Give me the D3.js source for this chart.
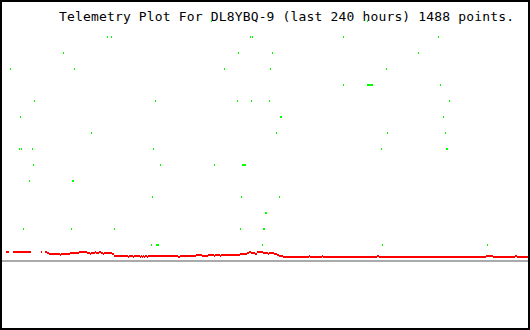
<!DOCTYPE html>
<html>
<head>
<meta charset="utf-8">
<style>
  html, body { margin: 0; padding: 0; background: #fff; }
  svg { display: block; }
</style>
</head>
<body>
<div id="plot"></div>
<script src="https://cdn.jsdelivr.net/npm/d3@7/dist/d3.min.js"></script>
<script>
(function() {
  'use strict';

  var title = 'Telemetry Plot For DL8YBQ-9 (last 240 hours) 1488 points.';

  // red channel: each run starts at an hour and keeps its value until the next start (null = no data)
  var redHours = [1.8, 3.2, 5.0, 13.2, 17.7, 18.2, 19.5, 20.5, 21.4, 26.4, 26.8, 30.9, 35.0, 38.6,
    40.0, 40.5, 42.3, 42.7, 44.1, 45.0, 45.9, 46.4, 50.0, 50.9, 57.3, 57.7, 59.5, 60.0, 62.7,
    63.2, 63.6, 64.1, 64.5, 65.0, 65.9, 66.4, 80.0, 80.9, 88.2, 90.9, 93.6, 96.4, 96.8, 99.1,
    99.5, 108.2, 111.4, 112.3, 113.2, 115.0, 115.9, 118.6, 120.9, 121.4, 123.6, 125.0, 125.9,
    127.7, 139.5, 140.0, 145.5, 145.9, 170.5, 171.4, 220.0, 223.2, 233.2, 234.1, 239.1];
  var redValues = [9, null, 9, null, 9, null, 9, 8, 7, 6, 7, 8, 9, 8,
    7, 8, 9, 8, 9, 8, 7, 8, 7, 5, 4, 5, 4, 5, 4,
    5, 4, 5, 4, 5, 4, 5, 4, 5, 6, 5, 6, 5, 6, 5,
    6, 7, 8, 9, 8, 7, 9, 8, 7, 8, 7, 6, 5,
    4, 5, 4, 5, 4, 5, 4, 5, 4, 5, 4, null];

  // green channel: quantised levels 0..14
  var greenHours = [95.0, 165.9,
    47.7, 49.5, 112.7, 113.6, 155.0, 198.2,
    27.7, 107.3, 122.7, 189.1,
    3.6, 32.7, 100.9, 121.8, 174.5,
    155.0, 165.9, 166.4, 166.8, 167.3, 167.7, 168.2, 199.1,
    14.5, 69.5, 106.8, 113.2, 121.4, 203.2,
    8.2, 126.4, 126.8, 200.5,
    40.5, 124.5, 175.0, 201.4,
    7.7, 8.6, 13.6, 68.6, 172.3, 201.8, 202.3,
    14.1, 71.8, 96.4, 109.1, 109.5, 110.0, 110.5,
    12.3, 31.8, 32.3,
    68.2, 108.6, 125.9,
    119.5, 120.0,
    9.5, 31.4, 50.9, 108.2, 118.6, 119.1,
    67.7, 70.0, 70.5, 70.9, 118.2, 172.7, 220.5];
  var greenLevels = [14, 14,
    13, 13, 13, 13, 13, 13,
    12, 12, 12, 12,
    11, 11, 11, 11, 11,
    10, 10, 10, 10, 10, 10, 10, 10,
    9, 9, 9, 9, 9, 9,
    8, 8, 8, 8,
    7, 7, 7, 7,
    6, 6, 6, 6, 6, 6, 6,
    5, 5, 5, 5, 5, 5, 5,
    4, 4, 4,
    3, 3, 3,
    2, 2,
    1, 1, 1, 1, 1, 1,
    0, 0, 0, 0, 0, 0, 0];

  var svgW = 530,
    svgH = 330,
    border = 2;

  var svg, plot, x, yRed, yGreen, redRuns = [], greenPts = [];

  svg = d3.select('#plot')
    .append('svg')
    .attr('width', svgW)
    .attr('height', svgH);

  svg.append('rect')
    .attr('width', svgW)
    .attr('height', svgH)
    .attr('fill', '#000');
  svg.append('rect')
    .attr('x', border)
    .attr('y', border)
    .attr('width', svgW - 2 * border)
    .attr('height', svgH - 2 * border)
    .attr('fill', '#fff');

  svg.append('clipPath')
    .attr('id', 'inner')
    .append('rect')
    .attr('x', border)
    .attr('y', border)
    .attr('width', svgW - 2 * border)
    .attr('height', svgH - 2 * border);

  // title goes under the marks
  svg.append('text')
    .attr('x', 59)
    .attr('y', 21)
    .attr('font-family', '"DejaVu Sans Mono", monospace')
    .attr('font-size', 13)
    .attr('textLength', 455)
    .attr('lengthAdjust', 'spacing')
    .attr('fill', '#000')
    .text(title);

  plot = svg.append('g')
    .attr('clip-path', 'url(#inner)')
    .attr('shape-rendering', 'crispEdges');

  x = d3.scaleLinear().domain([0, 240]).range([2, 530]);
  yRed = d3.scaleLinear().domain([0, 10]).range([261, 251]);
  yGreen = d3.scaleLinear().domain([0, 14]).range([245, 21]);

  // zero line
  plot.append('rect')
    .attr('x', x(0))
    .attr('y', yRed(0) - 1)
    .attr('width', x(240) - x(0))
    .attr('height', 2)
    .attr('fill', '#aaaaaa');

  //runs between consecutive start hours
  redHours.forEach(function(h, i) {
    if (i < redHours.length - 1 && redValues[i] !== null) {
      redRuns.push({ from: h, to: redHours[i + 1], v: redValues[i] });
    }
  });

  greenHours.forEach(function(h, i) {
    greenPts.push({ h: h, level: greenLevels[i] });
  });

  plot.selectAll('rect.green')
    .data(greenPts)
    .enter()
    .append('rect')
    .attr('class', 'green')
    .attr('x', function(d) { return Math.round(x(d.h)); })
    .attr('y', function(d) { return yGreen(d.level) - 1; })
    .attr('width', 1)
    .attr('height', 2)
    .attr('fill', '#00ff00');

  plot.selectAll('rect.red')
    .data(redRuns)
    .enter()
    .append('rect')
    .attr('class', 'red')
    .attr('x', function(d) { return Math.round(x(d.from)); })
    .attr('y', function(d) { return yRed(d.v) - 1; })
    .attr('width', function(d) { return Math.round(x(d.to)) - Math.round(x(d.from)); })
    .attr('height', 2)
    .attr('fill', '#ff0000');

}());
</script>
</body>
</html>
